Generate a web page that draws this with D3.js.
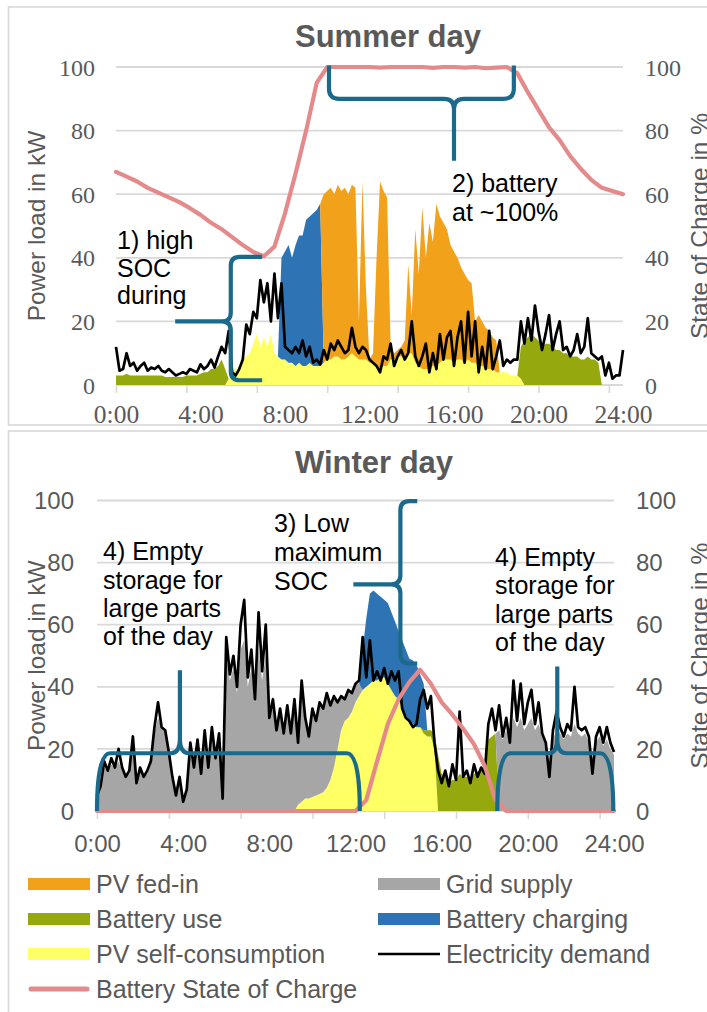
<!DOCTYPE html>
<html><head><meta charset="utf-8">
<script src="https://cdn.jsdelivr.net/npm/d3@7"></script>
<style>
html,body{margin:0;padding:0;background:#fff;overflow:hidden}
svg{display:block}
</style></head>
<body>
<svg id="chart" width="707" height="1012"></svg>
<script>
// ================= DATA =================
const stepMinutes = 10;          // resolution of power series
const socStepMinutes = 30;       // resolution of state-of-charge series
const xTickLabels = ["0:00","4:00","8:00","12:00","16:00","20:00","24:00"];
const yTickValues = [0,20,40,60,80,100];

// ---- Summer day (kW, every 10 min from 0:00 to 24:00) ----
const summerDemand = [12,4.5,5,10,6,7,4.5,6,7,4.5,5.5,5, 6,4.5,4,5,4,3,3.5,4,3.5,5,4.5,4,
  6.5,5,6,8,5.5,9,12,10,17,4,3,5, 8,19,16,23,21,33,26,32,20,35,21,32,
  12,11,10,12,10,14,9,12,7,8,6.5,11, 8,13,11,14,12,10,11,18,12,10,12,11,
  8,7,6,4,9,8,13,6,9,11,8,10, 20,9,6,9,13,4,10,5,16,8,15,17,
  6,15,20,7,23,9,20,4,12,5,17,5, 9,14,6,8,7,8,8,20,13,21,14,25,
  17,11,16,22,11,16,20,11,12,9,11,16, 10,12,21,10,9,8,9,3,7,2,3,3, 11];
const summerPvSelfStart = "5:10";
const summerPvSelf = [0,2,4,5,6,8,9,10,13,16, 12,15,12,16,10,9,8,8,7,7, 6,7,6,6,7,6,6,6,7,8,
  8,9,9,8,8,9,10,9,8,8, 8,7,7,6,5,6,6,8,8,9, 9,9,10,10,7,6,5,5,5,6,
  6,7,8,8,8,7,8,8,7,8, 7,7,6,6,5,5,5,4,4,4, 4,3,3,3,2,0];
const summerBattUseNightStart = "0:00";
const summerBattUseNight = [3,3,3,3.5,3,3,3,3,3,3,3,3, 3,3,2.5,2.5,2.5,2.5,2.5,2.5,3,3,3,3,
  3.5,4,4,5,5,6,8,5,0];
const summerBattUseEveningStart = "19:00";
const summerBattUseEvening = [0,10,14,15,16,15,14,12,13,13,12,11,11,10,10,9,9,9,8,8,9,8,8,7,0];
const summerBattChargeStart = "7:40";
const summerBattCharge = [0,32,34,37,33,38,40,41,46,46,48,49,51,0];
const summerPvFedStart = "9:40";
const summerPvFed = [0,53,53,54,51,54,53,54,51,53, 53,12,56,22,1,3,34,59,55,53,
  4,2,2,3,5,28,12,42,29,51, 35,46,39,51,46,43,41,36,35,32, 29,28,25,25,13,16,14,13,12,10, 10,0];
// state of charge in %, every 30 min
const summerSoc = [67,65.5,64,62,60.5,59,57.5,55.6,53.5,51,49,46.5,44,41.8,40.5,43.5,54,66.5,80,95,100,
  100,100,100,100,99.8,100,100,100,100,99.7,100,100,99.8,100,99.6,99.8,100,
  98,92,86.5,81,77,72,68,64.5,62,61,60];

// ---- Winter day ----
const winterDemand = [5,8,16,13,17,14,20,14,11,13,24,9, 14,11,13,16,27,35,27,26,19,11,5,11,
  3,7,22,14,23,12,26,14,27,17,25,4, 56,44,50,40,60,68,43,52,36,64,45,60,
  30,36,26,33,25,34,25,36,22,42,30,24, 33,29,35,33,38,34,37,35,37,36,39,38,
  41,42,56,43,55,42,45,42,46,41,45,42, 45,33,30,29,27,28,36,39,33,37,22,13,
  9,13,8,15,10,32,11,13,9,15,11,14, 12,28,33,26,34,24,30,22,42,29,41,28,
  35,39,28,35,25,22,11,26,32,27,24,28, 26,40,27,26,27,24,12,24,27,22,27,22, 19];
const winterGridMorningStart = "0:00";
const winterGridMorning = [4,8,14,13,15,14,16,13,11,12,20,10, 13,11,12,15,25,30,27,25,18,11,5,9,
  4,7,18,14,20,12,22,14,24,17,22,6, 50,42,46,38,52,55,40,46,35,52,42,50,
  30,33,26,31,25,31,25,33,20,36,26,20, 28,24,29,27,30,24,23,15,11,7,9,6, 6,4,0];
const winterGridEveningStart = "18:30";
const winterGridEvening = [0,26,23,26,22,30,27,30,26,28, 30,26,28,24,22,14,23,26,25,23,
  25,24,28,25,24,25,22,14,22,24, 21,23,20,18];
const winterPvSelfStart = "9:10";
const winterPvSelf = [0,2,3,4,4,4.5,5,5.5,6,7.5, 10,14,20,26,29,30,32,35,37,39,
  40,41,42,42,43,43,41,39,37,36, 33,31,29,28,27,27,25,24,24,20, 0];
const winterBattUseStart = "15:00";
const winterBattUse = [0,1,2,2,5,18,12,11,9,10,10,12,11,11,10,12,12,13,14,23,24,25,0];
const winterBattChargeStart = "12:10";
const winterBattCharge = [0,13,22,29,29,28,26,25,26,25,24,22,22,21,20,20.5,20,17,15,0];
const winterSoc = [0,0,0,0,0,0,0,0,0,0,0,0,0,0,0,0,0,0,0,0,0,0,0,0,0,
  3.5,16,28,36,41.5,45.5,41,35,31,26.5,21.5,14.5,3.5,
  0,0,0,0,0,0,0,0,0,0,0];

// legend
const legendLabels = ["PV fed-in","Grid supply","Battery use","Battery charging",
  "PV self-consumption","Electricity demand","Battery State of Charge"];
const legendKeys = ["pvFed","grid","battUse","battCharge","pvSelf","demand","soc"];

// ================= STYLE =================
const colors = {pvSelf:"#ffff66", battUse:"#95a90f", grid:"#a6a6a6", battCharge:"#2e74b5",
  pvFed:"#f2a11a", demand:"#000000", soc:"#e48a8a", brace:"#1c6a8b"};
const stackKeys = ["pvSelf","battUse","grid","battCharge","pvFed"];
const textGray = "#595959";
const sans = "'Liberation Sans', Arial, sans-serif";
const serif = "'Liberation Serif', 'Times New Roman', serif";

const toMin = s => { const [h,m] = s.split(":").map(Number); return h*60+m; };
const nPts = 24*60/stepMinutes + 1;
function buildSeries(segments){
  const arr = new Array(nPts).fill(0);
  segments.forEach(([start, vals]) => {
    const i0 = toMin(start)/stepMinutes;
    vals.forEach((v,k) => { arr[i0+k] = v; });
  });
  return arr;
}

const svg = d3.select("#chart");

function drawPanel(cfg){
  const g = svg.append("g");
  // frame
  g.append("rect").attr("x",cfg.frame[0]).attr("y",cfg.frame[1])
    .attr("width",cfg.frame[2]).attr("height",cfg.frame[3])
    .attr("fill","none").attr("stroke","#d9d9d9").attr("stroke-width",1.6);

  const x = d3.scaleLinear().domain([0,1440]).range([cfg.x0,cfg.x1]);
  const y = d3.scaleLinear().domain([0,100]).range([cfg.yBot,cfg.yTop]);

  // title
  g.append("text").attr("x",cfg.titleX).attr("y",cfg.titleY).attr("text-anchor","middle")
    .attr("font-family",sans).attr("font-weight","bold").attr("font-size",31)
    .attr("fill",textGray).text(cfg.title);

  // gridlines
  g.append("g").selectAll("line").data(yTickValues).join("line")
    .attr("x1",cfg.x0).attr("x2",cfg.x1).attr("y1",d=>y(d)).attr("y2",d=>y(d))
    .attr("stroke","#d9d9d9").attr("stroke-width",1.8);

  // x tick marks (every 200 min)
  const tickG = g.append("g").attr("transform",`translate(0,${cfg.yBot})`)
    .call(d3.axisBottom(x).tickValues(d3.range(0,1441,200)).tickSize(8).tickFormat(""));
  tickG.select(".domain").remove();
  tickG.selectAll("line").attr("stroke","#d9d9d9").attr("stroke-width",1.6);

  // x labels
  const labG = g.append("g").attr("transform",`translate(0,${cfg.yBot})`)
    .call(d3.axisBottom(x).tickValues(d3.range(0,1441,240)).tickSize(0)
      .tickFormat((d,i)=>xTickLabels[i]));
  labG.select(".domain").remove();
  labG.selectAll("text").attr("y",cfg.xLabelBaseline-cfg.yBot).attr("dy",null)
    .attr("font-family",cfg.tickFont).attr("font-size",cfg.xTickSize).attr("fill",textGray);

  // y labels left and right
  const yl = g.append("g").attr("transform",`translate(${cfg.x0},0)`)
    .call(d3.axisLeft(y).tickValues(yTickValues).tickSize(0).tickPadding(cfg.leftGap));
  const yr = g.append("g").attr("transform",`translate(${cfg.x1},0)`)
    .call(d3.axisRight(y).tickValues(yTickValues).tickSize(0).tickPadding(cfg.rightGap));
  [yl,yr].forEach(a=>{
    a.select(".domain").remove();
    a.selectAll("text").attr("font-family",cfg.tickFont).attr("font-size",cfg.yTickSize)
      .attr("fill",textGray).attr("dy","0.34em");
  });

  // axis titles
  const midY = (cfg.yTop+cfg.yBot)/2;
  g.append("text").attr("transform",`translate(45,${midY}) rotate(-90)`)
    .attr("text-anchor","middle").attr("font-family",sans).attr("font-size",24.5)
    .attr("fill",textGray).text("Power load in kW");
  g.append("text").attr("transform",`translate(708,${midY}) rotate(-90)`)
    .attr("text-anchor","middle").attr("font-family",sans).attr("font-size",24.5)
    .attr("fill",textGray).text("State of Charge in %");

  // stacked areas
  const rows = d3.range(nPts).map(i => {
    const r = {t:i*stepMinutes};
    stackKeys.forEach(k => r[k] = cfg.series[k][i]);
    return r;
  });
  const layers = d3.stack().keys(stackKeys)(rows);
  const area = d3.area().x(d=>x(d.data.t)).y0(d=>y(d[0])).y1(d=>y(d[1]));
  g.append("g").selectAll("path").data(layers).join("path")
    .attr("d",area).attr("fill",d=>colors[d.key]).attr("stroke","none");

  // demand line
  const line = d3.line().x((d,i)=>x(i*stepMinutes)).y(d=>y(d));
  g.append("path").datum(cfg.demand).attr("d",line).attr("fill","none")
    .attr("stroke",colors.demand).attr("stroke-width",2.7).attr("stroke-linejoin","round");

  // SOC line
  const socLine = d3.line().x((d,i)=>x(i*socStepMinutes)).y(d=>y(d));
  g.append("path").datum(cfg.soc).attr("d",socLine).attr("fill","none")
    .attr("stroke",colors.soc).attr("stroke-width",4.2).attr("stroke-linejoin","round")
    .attr("stroke-linecap","round");

  // braces
  cfg.braces.forEach(b => {
    g.append("path").attr("d",b(x,y)).attr("fill","none").attr("stroke",colors.brace)
      .attr("stroke-width",4.2).attr("stroke-linejoin","round");
  });

  // annotation texts
  cfg.notes.forEach(n => {
    const t = g.append("text").attr("font-family",sans).attr("font-size",25).attr("fill","#000");
    n.lines.forEach((s,i)=>{
      t.append("tspan").attr("x",n.x).attr("y",n.ys[i]).text(s);
    });
  });
}

// brace generators (positions given in minutes / %)
function vBrace(xv,yTop,yBot,yTip,xTip,xEnd){
  return (x,y)=>{
    const X=x(xv), T=y(yTop), B=y(yBot), M=y(yTip), XT=x(xTip), XE=x(xEnd), r=9;
    return `M${XE},${T} L${X+r},${T} Q${X},${T} ${X},${T+r} L${X},${M-r} Q${X},${M} ${X-r},${M} L${XT},${M}`+
      ` M${X-r},${M} Q${X},${M} ${X},${M+r} L${X},${B-r} Q${X},${B} ${X+r},${B} L${XE},${B}`;
  };
}
function hBraceDown(xl,xr,yEnd,yMid,xTip,yTip){
  return (x,y)=>{
    const L=x(xl), R=x(xr), E=y(yEnd), M=y(yMid), XT=x(xTip), YT=y(yTip), r=10;
    return `M${L},${E} L${L},${M-r} Q${L},${M} ${L+r},${M} L${XT-r},${M} Q${XT},${M} ${XT},${M+r} L${XT},${YT}`+
      ` M${XT},${M+r} Q${XT},${M} ${XT+r},${M} L${R-r},${M} Q${R},${M} ${R},${M-r} L${R},${E}`;
  };
}
function hBraceUp(xl,xr,yEnd,yMid,xTip,yTip){
  return (x,y)=>{
    const L=x(xl), R=x(xr), E=y(yEnd), M=y(yMid), XT=x(xTip), YT=y(yTip), r=9, c=13;
    return `M${L},${E} Q${L},${M} ${L+c},${M} L${XT-r},${M} Q${XT},${M} ${XT},${M-r*1.6} L${XT},${YT}`+
      ` M${XT},${M-r*1.6} Q${XT},${M} ${XT+r},${M} L${R-c},${M} Q${R},${M} ${R},${E}`;
  };
}

const summerSeries = {
  pvSelf: buildSeries([[summerPvSelfStart, summerPvSelf]]),
  battUse: buildSeries([[summerBattUseNightStart, summerBattUseNight],[summerBattUseEveningStart, summerBattUseEvening]]),
  grid: buildSeries([]),
  battCharge: buildSeries([[summerBattChargeStart, summerBattCharge]]),
  pvFed: buildSeries([[summerPvFedStart, summerPvFed]])
};
const winterSeries = {
  pvSelf: buildSeries([[winterPvSelfStart, winterPvSelf]]),
  battUse: buildSeries([[winterBattUseStart, winterBattUse]]),
  grid: buildSeries([[winterGridMorningStart, winterGridMorning],[winterGridEveningStart, winterGridEvening]]),
  battCharge: buildSeries([[winterBattChargeStart, winterBattCharge]]),
  pvFed: buildSeries([])
};

drawPanel({
  title:"Summer day", titleX:388, titleY:47, frame:[8.5,7,720,418],
  x0:116, x1:623, yTop:67, yBot:385,
  tickFont:serif, xTickSize:25.5, yTickSize:24, leftGap:21, rightGap:22, xLabelBaseline:423,
  series:summerSeries, demand:summerDemand, soc:summerSoc,
  braces:[
    vBrace(326, 40.3, 1.5, 20, 168, 415),
    hBraceDown(605, 1130, 100.5, 90, 960, 70.5)
  ],
  notes:[
    {x:117, ys:[249,277,304], lines:["1) high","SOC","during"]},
    {x:452, ys:[192,221], lines:["2) battery","at ~100%"]}
  ]
});

drawPanel({
  title:"Winter day", titleX:374, titleY:473, frame:[8.5,431,720,640],
  x0:97, x1:614, yTop:500.5, yBot:811,
  tickFont:sans, xTickSize:24, yTickSize:24, leftGap:23, rightGap:22, xLabelBaseline:852,
  series:winterSeries, demand:winterDemand, soc:winterSoc,
  braces:[
    hBraceUp(0, 732, 0, 18.6, 231, 45.3),
    hBraceUp(1115, 1438, 0, 18.6, 1282, 46.5),
    vBrace(845, 99.8, 47.5, 73, 714, 892)
  ],
  notes:[
    {x:103, ys:[560,588.5,617,645], lines:["4) Empty","storage for","large parts","of the day"]},
    {x:274, ys:[532,561,590], lines:["3) Low","maximum","SOC"]},
    {x:495, ys:[566,594,622.5,651], lines:["4) Empty","storage for","large parts","of the day"]}
  ]
});

// legend
const legendCols = [28, 378], legendRows = [884, 919, 954, 989];
const lg = svg.append("g");
legendKeys.forEach((k,i)=>{
  const cx = legendCols[i%2], cy = legendRows[Math.floor(i/2)];
  if (k === "demand" || k === "soc") {
    lg.append("line").attr("x1",cx+(k==="soc"?3:0)).attr("x2",cx+62-(k==="soc"?3:0))
      .attr("y1",cy).attr("y2",cy).attr("stroke",colors[k])
      .attr("stroke-width",k==="soc"?5:2.5).attr("stroke-linecap",k==="soc"?"round":"butt");
  } else {
    lg.append("rect").attr("x",cx).attr("y",cy-6).attr("width",62).attr("height",12)
      .attr("fill",colors[k]);
  }
  lg.append("text").attr("x",cx+68).attr("y",cy+8.5).attr("font-family",sans)
    .attr("font-size",25).attr("fill",textGray).text(legendLabels[i]);
});
</script>
</body></html>
